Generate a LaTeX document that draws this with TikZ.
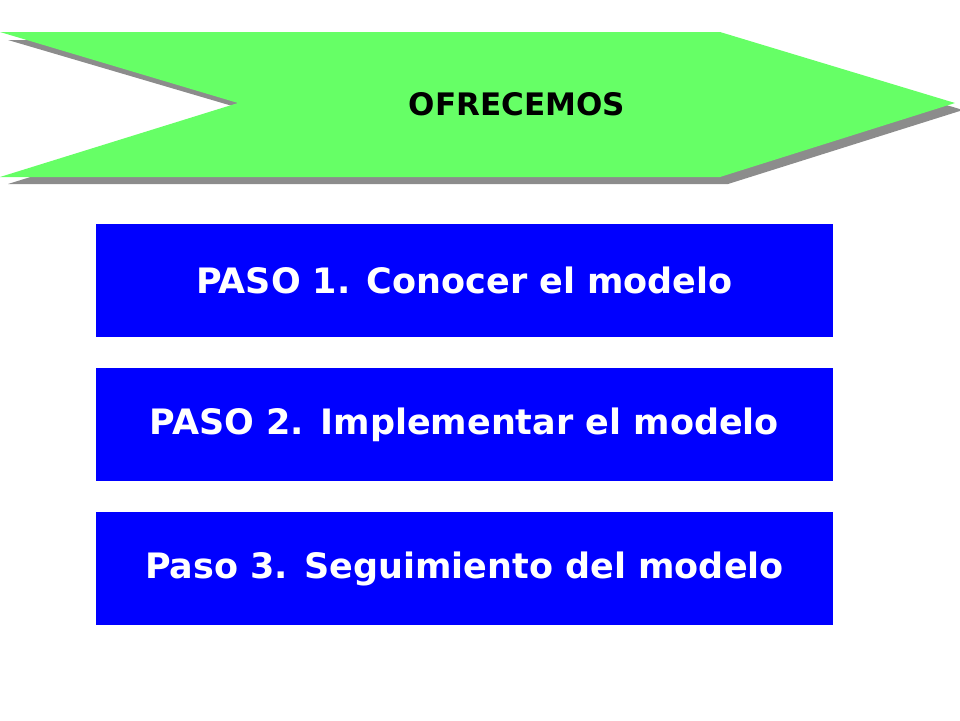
\documentclass[tikz,border=0pt]{standalone}
\usepackage{fontspec}
\setmainfont{DejaVu Sans}
\begin{document}
\begin{tikzpicture}[x=1pt,y=-1pt,
  stepbox/.style={fill={rgb,255:red,0;green,0;blue,255},draw=none,minimum width=737pt,minimum height=113pt,inner sep=0pt,text=white,font=\bfseries\fontsize{35}{40}\selectfont},
  banner/.style={fill={rgb,255:red,102;green,255;blue,102}}]
\useasboundingbox (0,0) rectangle (960,720);
\fill[gray!90] (8,40) -- (728,40) -- (963,110) -- (728,184) -- (8,184) -- (246,110) -- cycle;
\fill[banner] (0,32) -- (720,32) -- (955,103) -- (720,177) -- (0,177) -- (238,103) -- cycle;
\node[font=\bfseries\fontsize{31}{36}\selectfont] (title) at (517,104) {OFRECEMOS};
\node[stepbox] (s1) at (464.5,280.5) {PASO 1. Conocer el modelo};
\node[stepbox] (s2) at (464.5,424.5) {PASO 2. Implementar el modelo};
\node[stepbox] (s3) at (464.5,568.5) {Paso 3. Seguimiento del modelo};
\end{tikzpicture}
\end{document}
